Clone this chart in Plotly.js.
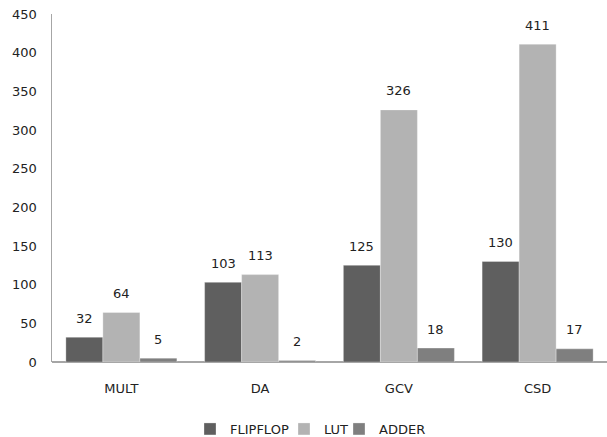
<!DOCTYPE html>
<html>
<head>
<meta charset="utf-8">
<script src="https://cdn.plot.ly/plotly-3.0.1.min.js"></script>
<style>
  html, body { margin: 0; padding: 0; background: #fff; }
  #chart { width: 607px; height: 437px; }
</style>
</head>
<body>
<div id="chart"></div>
<script>
// Resource usage per architecture
const categories = ['MULT', 'DA', 'GCV', 'CSD'];
const flipflop = [32, 103, 125, 130];
const lut = [64, 113, 326, 411];
const adder = [5, 2, 18, 17];
const seriesNames = ['FLIPFLOP', 'LUT', 'ADDER'];
const yTicks = [0, 50, 100, 150, 200, 250, 300, 350, 400, 450];

const W = 607, H = 437;
const colors = ['#5f5f5f', '#b3b3b3', '#7f7f7f'];
const seriesValues = [flipflop, lut, adder];
const font = { family: 'DejaVu Sans, Verdana, sans-serif', size: 13, color: '#222' };

// one legend box per series so the entries can sit side by side at chosen spots
const legendIds = ['legend', 'legend2', 'legend3'];
const legendLeft = [190, 284, 339];

const traces = seriesValues.map((vals, i) => ({
  type: 'bar',
  name: seriesNames[i],
  x: categories,
  y: vals,
  legend: legendIds[i],
  marker: { color: colors[i], line: { color: 'rgba(255,255,255,0.6)', width: 0.5 } },
  hoverinfo: 'none'
}));

// value labels above each bar, shifted to its slot in the group
const slotShift = [-37, 0, 37];
const annotations = [];
seriesValues.forEach((vals, i) => {
  vals.forEach((v, j) => {
    annotations.push({
      x: categories[j], y: v, xref: 'x', yref: 'y',
      text: String(v), showarrow: false,
      xshift: slotShift[i], yshift: 19, yanchor: 'middle',
      font: font
    });
  });
});

const layout = {
  width: W, height: H,
  margin: { l: 52, r: 0, t: 14, b: 75, autoexpand: false },
  paper_bgcolor: '#fff', plot_bgcolor: '#fff',
  barmode: 'group', bargap: 0.2, bargroupgap: 0,
  font: font,
  showlegend: true,
  xaxis: {
    type: 'category', showgrid: false, zeroline: false, automargin: false,
    showline: false, ticks: '', ticklabelstandoff: 17, tickfont: font
  },
  yaxis: {
    range: [0, 450], tickvals: yTicks, ticktext: yTicks.map(String),
    showgrid: false, zeroline: true, zerolinecolor: '#a6a6a6', zerolinewidth: 1.5,
    showline: true, linecolor: '#a6a6a6', linewidth: 1.5, automargin: false,
    ticks: '', ticklabelstandoff: 11, tickfont: font, fixedrange: true
  },
  annotations: annotations
};

legendIds.forEach((id, i) => {
  layout[id] = {
    orientation: 'h', xref: 'container', yref: 'container',
    x: legendLeft[i] / W, xanchor: 'left',
    y: (H - 429) / H, yanchor: 'middle',
    font: font, itemwidth: 30, borderwidth: 0, bgcolor: 'rgba(0,0,0,0)'
  };
});

Plotly.newPlot('chart', traces, layout, { staticPlot: true, displayModeBar: false });
</script>
</body>
</html>
